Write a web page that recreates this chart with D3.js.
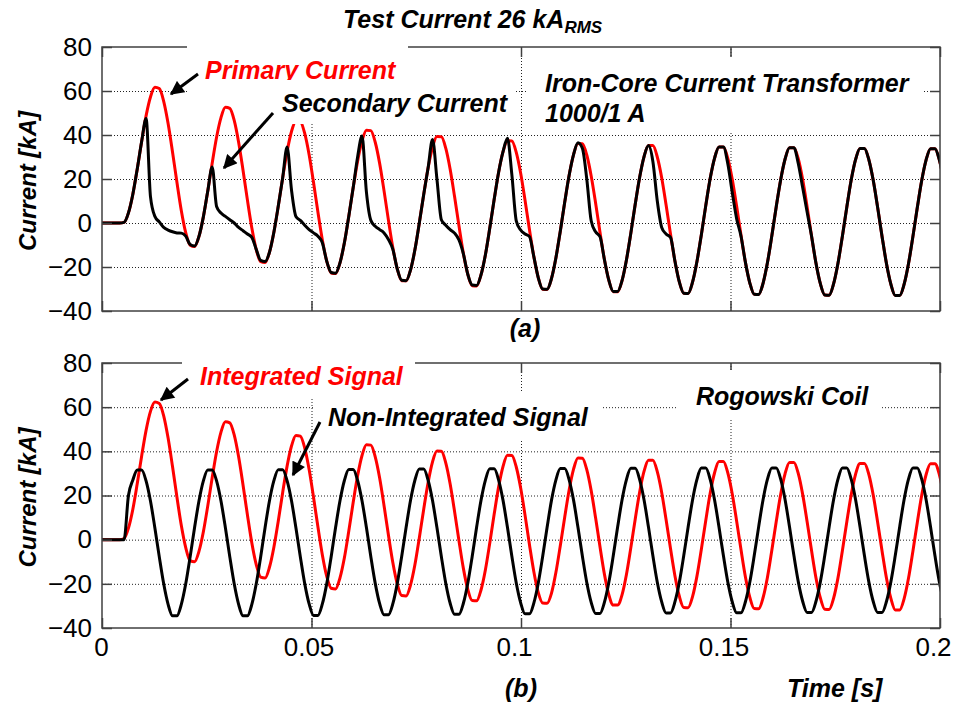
<!DOCTYPE html>
<html>
<head>
<meta charset="utf-8">
<script src="https://cdn.jsdelivr.net/npm/d3@7"></script>
<style>
  body { margin: 0; background: #fff; }
  svg { display: block; }
  text { font-family: "Liberation Sans", Arial, sans-serif; }
</style>
</head>
<body>
<div id="figure-holder"></div>
<script>
// sampled records, one value every dt seconds (kA)
const dt = 0.0010518
const yTicks = [-40, -20, 0, 20, 40, 60, 80]
const yGrid = [-20, 0, 20, 40, 60]
const xTicks = [0, 0.05, 0.1, 0.15, 0.2]
const xGrid = [0.05, 0.1, 0.15]
const xTickLabels = ['0', '0.05', '0.1', '0.15', '0.2']

const primaryCurrent = [
    0, 0, 0, 0, 0, 0.3, 4.6, 13.1, 24.6, 37.1, 48.7, 57.3, 61.7, 61.1, 55.3, 45.2,
    32.3, 18.5, 5.6, -4.4, -10.1, -10.7, -6.1, 2.8, 14.5, 27.2, 39.0, 47.9, 52.6, 52.1, 46.6, 36.7,
    24.0, 10.4, -2.3, -12.1, -17.6, -18.0, -13.3, -4.2, 7.7, 20.6, 32.5, 41.6, 46.4, 46.1, 40.7, 31.0,
    18.4, 4.9, -7.7, -17.4, -22.7, -23.0, -18.1, -9.0, 3.1, 16.1, 28.1, 37.3, 42.2, 42.0, 36.7, 27.1,
    14.6, 1.2, -11.3, -20.9, -26.2, -26.3, -21.4, -12.2, 0.0, 13.0, 25.1, 34.4, 39.3, 39.2, 34.0, 24.4,
    12.0, -1.3, -13.8, -23.3, -28.5, -28.6, -23.6, -14.4, -2.2, 10.9, 23.1, 32.4, 37.4, 37.3, 32.1, 22.6,
    10.2, -3.1, -15.4, -24.9, -30.1, -30.2, -25.2, -15.8, -3.6, 9.5, 21.7, 31.1, 36.1, 36.0, 30.9, 21.4,
    9.1, -4.2, -16.6, -26.0, -31.2, -31.2, -26.2, -16.8, -4.6, 8.6, 20.8, 30.2, 35.2, 35.2, 30.0, 20.6,
    8.2, -5.0, -17.3, -26.8, -31.9, -32.0, -26.9, -17.5, -5.3, 7.9, 20.2, 29.5, 34.6, 34.6, 29.4, 20.0,
    7.7, -5.6, -17.9, -27.3, -32.4, -32.5, -27.4, -18.0, -5.7, 7.5, 19.7, 29.1, 34.2, 34.2, 29.1, 19.6,
    7.3, -5.9, -18.2, -27.6, -32.7, -32.8, -27.7, -18.3, -6.0, 7.2, 19.5, 28.9, 33.9, 33.9, 28.8, 19.4,
    7.1, -6.1, -18.4, -27.8, -33.0, -33.0, -27.9, -18.5, -6.2, 7.0, 19.3, 28.7, 33.8, 33.8, 28.7, 19.2
]

const secondaryCurrent = [
    0, 0, 0, 0, 0, 0.3, 4.6, 13.1, 24.6, 37.1, 47.5, 12.0, 3.0, 0.5, -2.0, -3.2,
    -4.0, -4.5, -4.6, -6.0, -9.8, -10.5, -6.1, 2.8, 14.5, 25.5, 7.5, 4.5, 3.0, 1.5, 0.0, -2.0,
    -3.5, -5.0, -6.5, -12.0, -17.0, -17.5, -13.3, -4.2, 7.7, 20.6, 34.5, 15.0, 3.0, 1.2, -1.0, -3.0,
    -4.5, -6.0, -9.0, -17.4, -22.5, -22.8, -18.1, -9.0, 3.1, 16.1, 30.0, 39.5, 14.0, 1.2, -1.5, -3.0,
    -4.5, -7.5, -12.0, -20.9, -26.0, -26.2, -21.4, -12.2, 0.0, 13.0, 25.1, 38.0, 20.0, 1.5, -1.0, -3.0,
    -4.6, -7.7, -14.0, -23.3, -28.2, -28.4, -23.6, -14.4, -2.2, 10.9, 23.1, 32.4, 38.5, 22.0, 1.0, -3.2,
    -5.0, -6.2, -15.4, -24.9, -30.0, -30.1, -25.2, -15.8, -3.6, 9.5, 21.7, 31.1, 36.5, 34.0, 20.0, 1.0,
    -4.0, -6.2, -16.6, -26.0, -31.1, -31.1, -26.2, -16.8, -4.6, 8.6, 20.8, 30.2, 35.2, 28.0, 10.0, -2.0,
    -5.0, -6.5, -17.3, -26.8, -31.9, -32.0, -26.9, -17.5, -5.3, 7.9, 20.2, 29.5, 34.6, 34.6, 27.0, 14.0,
    2.0, -6.0, -17.9, -27.3, -32.4, -32.5, -27.4, -18.0, -5.7, 7.5, 19.7, 29.1, 34.2, 34.2, 27.0, 16.0,
    5.0, -5.9, -18.2, -27.6, -32.7, -32.8, -27.7, -18.3, -6.0, 7.2, 19.5, 28.9, 33.9, 33.9, 28.8, 19.4,
    7.1, -6.1, -18.4, -27.8, -33.0, -33.0, -27.9, -18.5, -6.2, 7.0, 19.3, 28.7, 33.8, 33.8, 28.7, 19.2
]

const integratedSignal = [
    0, 0, 0, 0, 0, 0.5, 5.2, 13.8, 25.4, 37.9, 49.5, 58.1, 62.3, 61.7, 56.1, 46.0,
    33.1, 19.3, 6.4, -3.6, -9.5, -10.0, -5.3, 3.6, 15.3, 28.0, 39.8, 48.7, 53.4, 52.9, 47.4, 37.5,
    24.8, 11.2, -1.5, -11.3, -17.0, -17.4, -12.5, -3.4, 8.5, 21.4, 33.3, 42.4, 47.2, 46.9, 41.5, 31.8,
    19.2, 5.7, -6.9, -16.6, -22.0, -22.3, -17.3, -8.2, 3.9, 16.9, 28.9, 38.1, 43.0, 42.8, 37.5, 27.9,
    15.4, 2.0, -10.5, -20.1, -25.3, -25.5, -20.6, -11.4, 0.8, 13.8, 25.9, 35.2, 40.1, 40.0, 34.8, 25.2,
    12.8, -0.5, -13.0, -22.5, -27.6, -27.7, -22.8, -13.6, -1.4, 11.7, 23.9, 33.2, 38.2, 38.1, 32.9, 23.4,
    11.0, -2.3, -14.6, -24.0, -28.7, -28.8, -24.2, -14.8, -2.6, 10.3, 22.5, 31.9, 37.0, 36.9, 31.7, 22.2,
    9.9, -3.2, -15.6, -24.9, -29.6, -29.6, -25.0, -15.8, -3.6, 9.4, 21.6, 31.0, 36.0, 36.0, 30.8, 21.4,
    9.0, -4.0, -16.3, -25.6, -30.7, -30.8, -25.8, -16.5, -4.3, 8.7, 21.0, 30.3, 35.4, 35.4, 30.2, 20.8,
    8.5, -4.6, -16.9, -26.1, -31.2, -31.3, -26.3, -17.0, -4.7, 8.3, 20.5, 29.9, 35.0, 35.0, 29.9, 20.4,
    8.1, -4.9, -17.2, -26.4, -31.5, -31.6, -26.6, -17.3, -5.0, 8.0, 20.3, 29.7, 34.5, 34.5, 29.6, 20.2,
    7.9, -5.1, -17.4, -26.6, -31.8, -31.8, -26.8, -17.5, -5.2, 7.8, 20.1, 29.5, 34.4, 34.4, 29.5, 20.0
]

const nonIntegratedSignal = [
    0, 0, 0, 0, 0, 0, 20.0, 27.0, 31.5, 31.5, 26.6, 17.5, 5.3, -7.8, -20.0, -29.3,
    -34.5, -34.5, -29.3, -20.0, -7.8, 5.4, 17.5, 26.6, 31.5, 31.5, 26.6, 17.5, 5.4, -7.8, -20.0, -29.3,
    -34.5, -34.5, -29.3, -20.0, -7.8, 5.4, 17.6, 26.7, 31.7, 31.7, 26.7, 17.6, 5.4, -7.7, -19.9, -29.1,
    -34.3, -34.3, -29.1, -19.9, -7.7, 5.5, 17.6, 26.8, 31.8, 31.8, 26.8, 17.6, 5.5, -7.7, -19.8, -29.0,
    -34.0, -34.0, -29.0, -19.8, -7.6, 5.5, 17.7, 26.9, 32.0, 32.0, 26.9, 17.7, 5.5, -7.6, -19.7, -28.8,
    -33.8, -33.8, -28.8, -19.7, -7.6, 5.6, 17.8, 27.0, 32.1, 32.1, 27.0, 17.8, 5.6, -7.5, -19.6, -28.6,
    -33.6, -33.6, -28.6, -19.6, -7.5, 5.6, 17.9, 27.1, 32.2, 32.2, 27.1, 17.9, 5.6, -7.4, -19.4, -28.4,
    -33.4, -33.4, -28.4, -19.4, -7.4, 5.7, 18.0, 27.2, 32.3, 32.3, 27.2, 18.0, 5.7, -7.3, -19.3, -28.2,
    -33.2, -33.2, -28.2, -19.3, -7.3, 5.7, 18.0, 27.3, 32.4, 32.4, 27.3, 18.0, 5.7, -7.2, -19.2, -28.1,
    -33.1, -33.1, -28.1, -19.2, -7.2, 5.8, 18.1, 27.4, 32.5, 32.5, 27.4, 18.1, 5.8, -7.2, -19.1, -28.0,
    -33.0, -33.0, -28.0, -19.1, -7.2, 5.8, 18.1, 27.4, 32.5, 32.5, 27.4, 18.1, 5.8, -7.2, -19.1, -28.0,
    -33.0, -33.0, -28.0, -19.1, -7.2, 5.8, 18.1, 27.4, 32.5, 32.5, 27.4, 18.1, 5.8, -7.2, -19.1, -28.0
]

const W = 954, H = 709
const left = 102, right = 940
const frameColor = '#404040'
const labelFont = 25

const svg = d3.select('#figure-holder').append('svg')
    .attr('width', W)
    .attr('height', H)

// arrow head used by the annotations
svg.append('defs').append('marker')
    .attr('id', 'arrow')
    .attr('viewBox', '0 0 10 10')
    .attr('refX', 9)
    .attr('refY', 5)
    .attr('markerUnits', 'userSpaceOnUse')
    .attr('markerWidth', 15)
    .attr('markerHeight', 14)
    .attr('orient', 'auto')
    .append('path')
    .attr('d', 'M0,0 L10,5 L0,10 z')
    .attr('fill', '#000')

const x = d3.scaleLinear().domain([0, 0.2]).range([left, right])

const boldItalic = (sel) => sel
    .style('font-weight', 'bold')
    .style('font-style', 'italic')

const drawPanel = (cfg) => {
    const { id, top, bottom, series, showX, boxes, labels, arrows } = cfg
    const y = d3.scaleLinear().domain([-40, 80]).range([bottom, top])
    const g = svg.append('g').attr('id', id)

    // dotted grid
    g.append('g')
        .attr('class', 'grid')
        .attr('transform', `translate(${left}, 0)`)
        .call(d3.axisLeft(y).tickValues(yGrid).tickSize(-(right - left)).tickFormat(''))
    g.append('g')
        .attr('class', 'grid')
        .attr('transform', `translate(0, ${bottom})`)
        .call(d3.axisBottom(x).tickValues(xGrid).tickSize(-(bottom - top)).tickFormat(''))
    g.selectAll('.grid .domain').remove()
    g.selectAll('.grid line')
        .attr('stroke', '#222')
        .attr('stroke-width', 1)
        .attr('stroke-dasharray', '1,2')

    // curves
    g.append('clipPath').attr('id', `clip-${id}`)
        .append('rect')
        .attr('x', left).attr('y', top)
        .attr('width', right - left).attr('height', bottom - top)

    const line = d3.line()
        .x((d, i) => x(i * dt))
        .y(d => y(d))
        .curve(d3.curveMonotoneX)

    series.forEach(s => {
        g.append('path')
            .datum(s.values)
            .attr('clip-path', `url(#clip-${id})`)
            .attr('d', line)
            .attr('fill', 'none')
            .attr('stroke', s.color)
            .attr('stroke-width', 3)
            .attr('stroke-linejoin', 'round')
    })

    // frame and inward ticks
    g.append('rect')
        .attr('x', left).attr('y', top)
        .attr('width', right - left).attr('height', bottom - top)
        .attr('fill', 'none')
        .attr('stroke', frameColor)
        .attr('stroke-width', 1.5)

    g.append('g')
        .attr('class', 'axis')
        .attr('transform', `translate(${left}, 0)`)
        .call(d3.axisLeft(y).tickValues(yTicks).tickSize(-10).tickPadding(10))
    g.append('g')
        .attr('class', 'axis')
        .attr('transform', `translate(${right}, 0)`)
        .call(d3.axisRight(y).tickValues(yTicks).tickSize(-10).tickFormat(''))
    g.append('g')
        .attr('class', 'axis')
        .attr('transform', `translate(0, ${top})`)
        .call(d3.axisTop(x).tickValues(xTicks).tickSize(-10).tickFormat(''))
    const xAxis = g.append('g')
        .attr('class', 'axis')
        .attr('transform', `translate(0, ${bottom})`)
        .call(d3.axisBottom(x).tickValues(xTicks).tickSize(-10).tickPadding(10)
            .tickFormat((d, i) => showX ? xTickLabels[i] : ''))

    // the printed labels sit a little left of their ticks
    const xLabelShift = [-1, -3, -7, -7, -7]
    xAxis.selectAll('text').attr('dx', (d, i) => xLabelShift[i])

    g.selectAll('.axis .domain').remove()
    g.selectAll('.axis line')
        .attr('stroke', frameColor)
        .attr('stroke-width', 1.5)
    g.selectAll('.axis text')
        .style('font-size', '26px')
        .attr('fill', '#000')

    // y label
    g.append('text')
        .text('Current [kA]')
        .attr('transform', `translate(36, ${(top + bottom) / 2 + 2}) rotate(-90)`)
        .attr('text-anchor', 'middle')
        .style('font-size', '24px')
        .call(boldItalic)

    // annotation boxes and text, in order: a later box covers earlier text
    labels.forEach((lb, i) => {
        const b = boxes[i]
        g.append('rect')
            .attr('x', b[0]).attr('y', b[1])
            .attr('width', b[2] - b[0]).attr('height', b[3] - b[1])
            .attr('fill', '#fff')
        lb.lines.forEach((t, j) => {
            g.append('text')
                .text(t)
                .attr('x', lb.x)
                .attr('y', lb.y + j * 30)
                .attr('fill', lb.color)
                .style('font-size', `${labelFont}px`)
                .call(boldItalic)
        })
    })

    arrows.forEach(a => {
        g.append('line')
            .attr('x1', a[0]).attr('y1', a[1])
            .attr('x2', a[2]).attr('y2', a[3])
            .attr('stroke', '#000')
            .attr('stroke-width', 3)
            .attr('marker-end', 'url(#arrow)')
    })
}

// (a) iron-core current transformer
drawPanel({
    id: 'ct',
    top: 47,
    bottom: 311,
    showX: false,
    series: [
        { values: primaryCurrent, color: '#ff0000' },
        { values: secondaryCurrent, color: '#000' }
    ],
    boxes: [[187, 38, 408, 93], [270, 80, 516, 124], [528, 57, 922, 133]],
    labels: [
        { lines: ['Primary Current'], x: 205, y: 79, color: '#ff0000' },
        { lines: ['Secondary Current'], x: 282, y: 112, color: '#000' },
        { lines: ['Iron-Core Current Transformer', '1000/1 A'], x: 545, y: 92, color: '#000' }
    ],
    arrows: [[198, 74, 171, 94], [273, 113, 224, 168]]
})

// (b) rogowski coil
drawPanel({
    id: 'rc',
    top: 363,
    bottom: 628,
    showX: true,
    series: [
        { values: integratedSignal, color: '#ff0000' },
        { values: nonIntegratedSignal, color: '#000' }
    ],
    boxes: [[182, 355, 415, 398], [314, 393, 601, 440], [677, 370, 882, 418]],
    labels: [
        { lines: ['Integrated Signal'], x: 200, y: 385, color: '#ff0000' },
        { lines: ['Non-Integrated Signal'], x: 328, y: 426, color: '#000' },
        { lines: ['Rogowski Coil'], x: 696, y: 405, color: '#000' }
    ],
    arrows: [[188, 379, 161, 400], [320, 422, 293, 475]]
})

// title and captions
const title = svg.append('text')
    .attr('x', 343)
    .attr('y', 28)
    .style('font-size', `${labelFont}px`)
    .call(boldItalic)
title.append('tspan').text('Test Current 26 kA')
title.append('tspan').text('RMS').attr('dy', 5).style('font-size', '17px')

svg.append('text').text('(a)')
    .attr('x', 525).attr('y', 337)
    .attr('text-anchor', 'middle')
    .style('font-size', `${labelFont}px`)
    .call(boldItalic)

svg.append('text').text('(b)')
    .attr('x', 521).attr('y', 697)
    .attr('text-anchor', 'middle')
    .style('font-size', `${labelFont}px`)
    .call(boldItalic)

svg.append('text').text('Time [s]')
    .attr('x', 787).attr('y', 697)
    .style('font-size', `${labelFont}px`)
    .call(boldItalic)
</script>
</body>
</html>
